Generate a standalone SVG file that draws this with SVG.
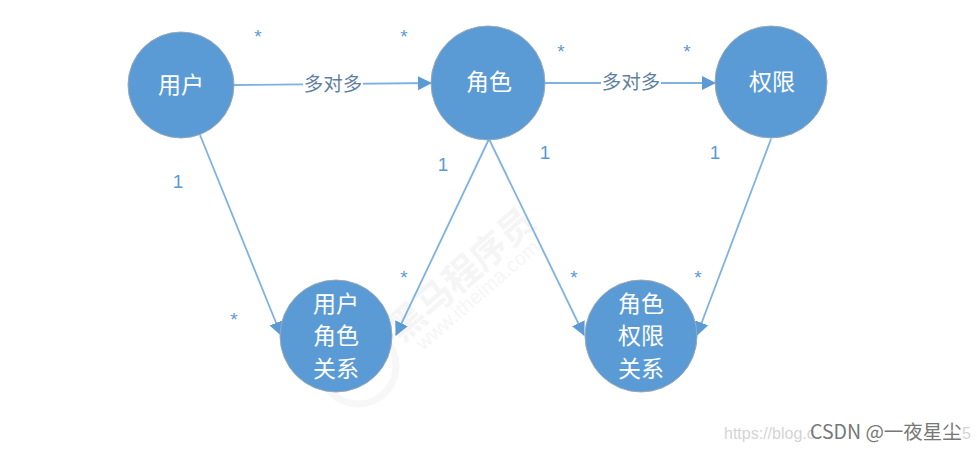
<svg xmlns="http://www.w3.org/2000/svg" width="977" height="452" viewBox="0 0 977 452">
<style>
.cjk{font-family:"Noto Sans CJK SC","Liberation Sans",sans-serif}
.n{fill:#5b9bd5;stroke:#9aa9b8;stroke-width:1}
.t{fill:#fff;font-size:23px;text-anchor:middle}
.c{fill:none;stroke:#7fb2e2;stroke-width:1.8;marker-end:url(#a)}
.m{fill:#5b9bd5;font-family:"Liberation Sans",sans-serif;font-size:19px;text-anchor:middle}
.l{fill:#5f7f9f;font-size:19.5px;text-anchor:middle}
</style>
<defs>
<marker id="a" markerUnits="userSpaceOnUse" markerWidth="16" markerHeight="16" refX="13" refY="7" orient="auto"><path d="M0 0L14 7L0 14Z" fill="#5b9bd5"/></marker>
</defs>
<rect width="977" height="452" fill="#fff"/>
<g id="watermark">
<text class="cjk" x="470" y="284" transform="rotate(-41 470 284)" font-size="36" font-weight="700" fill="#f5f5f5" text-anchor="middle">黑马程序员</text>
<text x="482" y="300" transform="rotate(-41 482 300)" font-family="Liberation Sans,sans-serif" font-size="20" fill="#f6f6f6" text-anchor="middle">www.itheima.com</text>
<circle cx="358" cy="366" r="38" fill="none" stroke="#f7f7f7" stroke-width="7"/>
</g>
<g id="connectors">
<path class="c" d="M234 85L431 83"/>
<path class="c" d="M545 83L715 83"/>
<path class="c" d="M200 135L281 335"/>
<path class="c" d="M489 139L396 335"/>
<path class="c" d="M489 139L584 335"/>
<path class="c" d="M771 139L697 335"/>
</g>
<g id="edge-label-1"><rect x="303" y="74" width="60" height="22" fill="#fff"/><text class="l cjk" x="333" y="91">多对多</text></g>
<g id="edge-label-2"><rect x="601" y="72" width="60" height="22" fill="#fff"/><text class="l cjk" x="631" y="89">多对多</text></g>
<g id="node-user"><circle class="n" cx="181" cy="85" r="53"/><text class="t cjk" x="181" y="93">用户</text></g>
<g id="node-role"><circle class="n" cx="488" cy="83" r="57"/><text class="t cjk" x="489" y="90">角色</text></g>
<g id="node-perm"><circle class="n" cx="771" cy="82" r="56"/><text class="t cjk" x="772" y="90">权限</text></g>
<g id="node-user-role"><circle class="n" cx="336" cy="336" r="56"/><text class="t cjk" x="336" y="312">用户</text><text class="t cjk" x="336" y="344">角色</text><text class="t cjk" x="336" y="377">关系</text></g>
<g id="node-role-perm"><circle class="n" cx="641" cy="336" r="56"/><text class="t cjk" x="641" y="312">角色</text><text class="t cjk" x="641" y="344">权限</text><text class="t cjk" x="641" y="377">关系</text></g>
<g id="multiplicities">
<text class="m" x="258" y="43">*</text><text class="m" x="404" y="43">*</text><text class="m" x="561" y="58">*</text><text class="m" x="687" y="58">*</text>
<text class="m" x="234" y="326">*</text><text class="m" x="404" y="284">*</text><text class="m" x="574" y="284">*</text><text class="m" x="698" y="284">*</text>
<text class="m" x="178" y="188">1</text><text class="m" x="443" y="171">1</text><text class="m" x="545" y="159">1</text><text class="m" x="715" y="159">1</text>
</g>
<g id="credit">
<text x="724" y="439" font-family="Liberation Sans,sans-serif" font-size="16" fill="#d4d4d4">https://blog.c</text>
<text x="962" y="439" font-family="Liberation Sans,sans-serif" font-size="16" fill="#d4d4d4">5</text>
<text class="cjk" x="810" y="439" font-size="19.5" fill="#777">CSDN @一夜星尘</text>
</g>
</svg>
